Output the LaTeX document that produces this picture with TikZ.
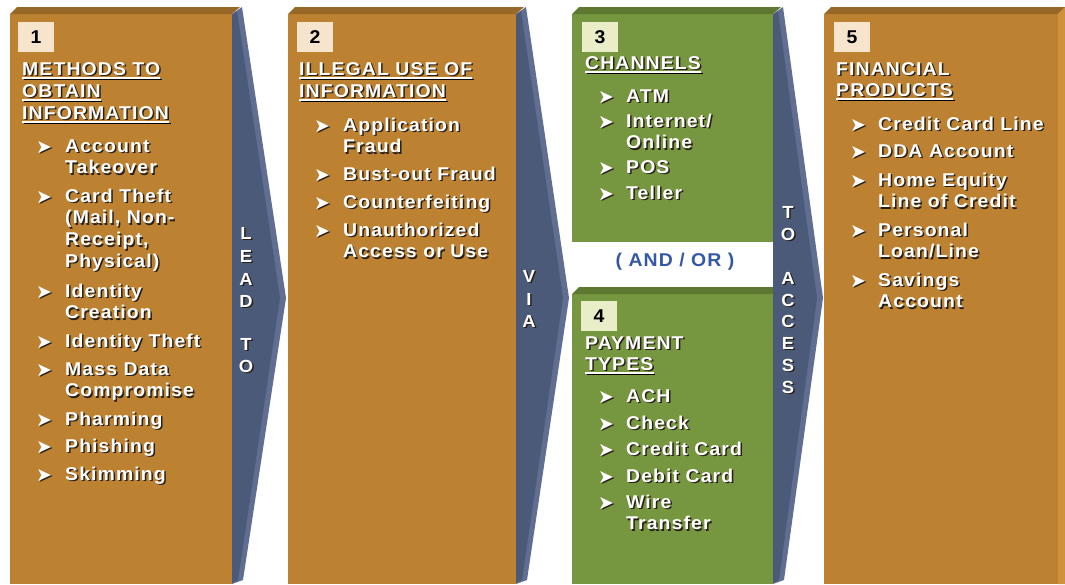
\documentclass[tikz,border=0pt]{standalone}
\usepackage{fontspec}
\setmainfont{Liberation Sans}[LetterSpace=6,FakeStretch=1.05]
\newfontfamily\dingfont{DejaVu Sans}
\usetikzlibrary{calc,positioning}

\definecolor{ochre}{RGB}{189,130,49}
\definecolor{ochreside}{RGB}{209,145,58}
\definecolor{olive}{RGB}{118,150,63}
\definecolor{slate}{RGB}{75,90,120}
\definecolor{slatelight}{RGB}{95,110,145}
\definecolor{numochre}{RGB}{246,228,204}
\definecolor{numolive}{RGB}{233,237,200}
\definecolor{andblue}{RGB}{53,87,167}
\definecolor{shade}{RGB}{40,32,24}

% lines of one entry, first baseline on the anchor
\newcommand\stk[1]{\begin{tabular}[t]{@{}l@{}}#1\end{tabular}}

\begin{document}
\begin{tikzpicture}[x=1pt,y=-1pt]
  \tikzset{
    lbl/.style={anchor=base west, inner sep=0pt,
      font=\bfseries\fontsize{18.5}{21.8}\selectfont},
    bul/.style={anchor=base west, inner sep=0pt,
      font=\dingfont\fontsize{19}{19}\selectfont},
    vlet/.style={anchor=base, inner sep=0pt,
      font=\bfseries\fontsize{17.5}{17.5}\selectfont},
    num/.style={minimum width=36pt, minimum height=30pt, inner sep=0pt,
      font=\bfseries\fontsize{18.5}{18.5}\selectfont},
  }
  \useasboundingbox (0,0) rectangle (1065,584);

  % panels, each with a darker top face
  \foreach \xa/\ya/\xb/\yb/\col in {10/14/232/584/ochre, 288/14/516/584/ochre,
      572/14/773/242/olive, 572/294/773/584/olive, 824/14/1058/584/ochre}{
    \fill[\col] (\xa,\ya) rectangle (\xb,\yb);
    \fill[\col!80!black] (\xa,\ya) -- (\xa+7,\ya-7) -- (\xb+8,\ya-7) -- (\xb,\ya) -- cycle;
  }
  \fill[ochreside] (1058,14) -- (1065,7) -- (1065,584) -- (1058,584) -- cycle;

  % chevrons between the panels
  \foreach \xl/\xt in {232/286, 516/569, 773/823}{
    \fill[slatelight] (\xl,14) -- (\xl+10,7) -- (\xt,298) -- (\xl+11,580) -- (\xl,584) -- cycle;
    \fill[slate] (\xl,15) -- (\xl+5,11) -- (\xt-6,298) -- (\xl+6,580) -- (\xl,583) -- cycle;
  }

  % number tags
  \node[num, fill=numochre] (n1) at (36,37) {1};
  \node[num, fill=numochre] (n2) at (315,37) {2};
  \node[num, fill=numolive] (n3) at (600,37) {3};
  \node[num, fill=numolive] (n4) at (599,316) {4};
  \node[num, fill=numochre] (n5) at (852,37) {5};

  \node[font=\bfseries\fontsize{18.5}{18.5}\selectfont, text=andblue] (andor) at (675,262) {( AND / OR )};

  % white lettering, the first pass is its drop shadow
  \foreach \off/\tc in {1.5/shade, 0/white}{
    \begin{scope}[shift={(\off,\off)}, every node/.append style={text=\tc}]
      % headings
      \foreach \nm/\x/\y/\hd/\und in {h1a/22/75/{METHODS TO}/1, h1b/22/97/{OBTAIN}/1,
          h1c/22/119/{INFORMATION}/1, h2a/299/75/{ILLEGAL USE OF}/1,
          h2b/299/97/{INFORMATION}/1, h3a/585/69/{CHANNELS}/1,
          h4a/585/349/{PAYMENT}/0, h4b/585/370/{TYPES}/1,
          h5a/836/75/{FINANCIAL}/0, h5b/836/96/{PRODUCTS}/1}{
        \node[lbl] (\nm) at (\x,\y) {\hd};
        \ifnum\und=1
          \draw[\tc, line width=1.5pt] ([yshift=-3pt]\nm.base west) -- ([yshift=-3pt]\nm.base east);
        \fi
      }

      % bullet lists
      \foreach \itm/\y [count=\i] in {{Account\\Takeover}/152,
          {Card Theft\\(Mail, Non-\\Receipt,\\Physical)}/202, {Identity\\Creation}/297,
          {Identity Theft}/347, {Mass Data\\Compromise}/375, {Pharming}/425,
          {Phishing}/452, {Skimming}/480}{
        \node[bul] (b1\i) at (36,\y+1) {➤};
        \node[lbl] (t1\i) at (65,\y) {\stk{\itm}};
      }
      \foreach \itm/\y [count=\i] in {{Application\\Fraud}/131, {Bust-out Fraud}/180,
          {Counterfeiting}/208, {Unauthorized\\Access or Use}/236}{
        \node[bul] (b2\i) at (314,\y+1) {➤};
        \node[lbl] (t2\i) at (343,\y) {\stk{\itm}};
      }
      \foreach \itm/\y [count=\i] in {{ATM}/102, {Internet/\\Online}/127, {POS}/173,
          {Teller}/199}{
        \node[bul] (b3\i) at (598,\y+1) {➤};
        \node[lbl] (t3\i) at (626,\y) {\stk{\itm}};
      }
      \foreach \itm/\y [count=\i] in {{ACH}/402, {Check}/429, {Credit Card}/455,
          {Debit Card}/482, {Wire\\Transfer}/508}{
        \node[bul] (b4\i) at (598,\y+1) {➤};
        \node[lbl] (t4\i) at (626,\y) {\stk{\itm}};
      }
      \foreach \itm/\y [count=\i] in {{Credit Card Line}/130, {DDA Account}/157,
          {Home Equity\\Line of Credit}/186, {Personal\\Loan/Line}/236,
          {Savings\\Account}/286}{
        \node[bul] (b5\i) at (850,\y+1) {➤};
        \node[lbl] (t5\i) at (878,\y) {\stk{\itm}};
      }

      % letters stacked in the chevrons
      \foreach \ch/\y [count=\i] in {L/239, E/262, A/285, D/307, T/350, O/372}
        \node[vlet] (va\i) at (246,\y) {\ch};
      \foreach \ch/\y [count=\i] in {V/282, I/305, A/327}
        \node[vlet] (vb\i) at (529,\y) {\ch};
      \foreach \ch/\y [count=\i] in {T/218, O/240, A/284, C/306, C/327, E/349, S/371, S/393}
        \node[vlet] (vc\i) at (788,\y) {\ch};
    \end{scope}
  }
\end{tikzpicture}
\end{document}
